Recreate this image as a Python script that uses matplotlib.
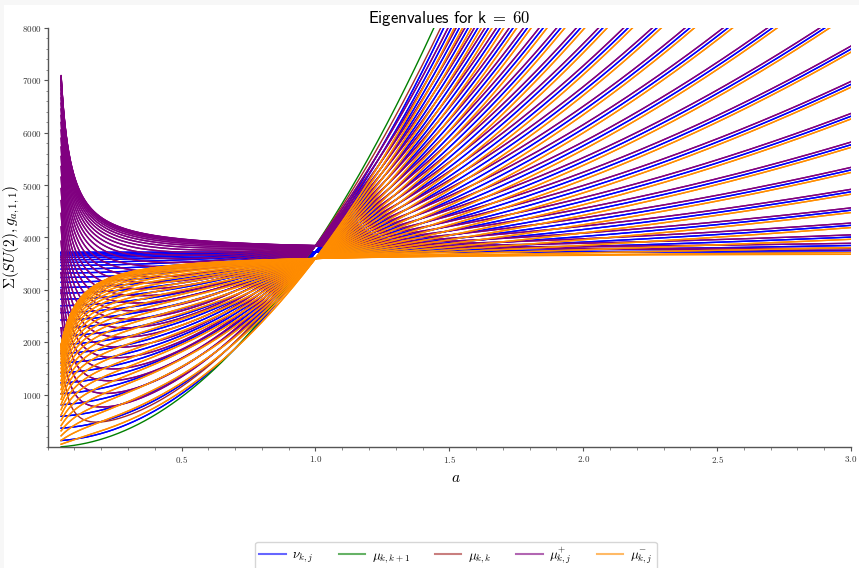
import numpy as np
import matplotlib
matplotlib.use("Agg")
import matplotlib.pyplot as plt
from matplotlib.lines import Line2D
from matplotlib.patches import Rectangle
from matplotlib.ticker import FixedLocator, MultipleLocator, FuncFormatter

plt.rcParams['mathtext.fontset'] = 'cm'

# ---- data ----
k = 60                      # representation index
a_range = [0.05, 3.0]       # metric parameter range plotted
j_nu = list(range(0, k + 1))   # indices for nu_{k,j}
j_mu = list(range(1, k))       # indices for mu^{+-}_{k,j}
x_ticks = [0.5, 1.0, 1.5, 2.0, 2.5, 3.0]
y_ticks = [1000, 2000, 3000, 4000, 5000, 6000, 7000, 8000]
title = r"$\mathsf{Eigenvalues\ for\ k\;=\;60}$"
legend_labels = [r"$\nu_{k,j}$", r"$\mu_{k,k+1}$", r"$\mu_{k,k}$",
                 r"$\mu_{k,j}^{+}$", r"$\mu_{k,j}^{-}$"]
colors = ["#0000ff", "#008000", "#a52a2a", "#800080", "#ff8c00"]

a = np.linspace(a_range[0], a_range[1], 3000)


def nu(j):
    return k * (k + 2) + (a ** 2 - 1) * (k - 2 * j) ** 2


def mu_plus(j):
    return (np.sqrt(nu(j) + 1 / a ** 2) + 1 / a) ** 2


def mu_minus(j):
    return (np.sqrt(nu(j) + 1 / a ** 2) - 1 / a) ** 2


mu_kk1 = a ** 2 * (k + 2) ** 2
mu_kk = (a * k + 2 / a) ** 2

# ---- figure ----
W, H = 859, 568
fig = plt.figure(figsize=(W / 100, H / 100), dpi=100)
fig.patch.set_facecolor("#f7f7f7")
fig.patches.append(Rectangle((4 / W, 0), 1, 1 - 5 / H, transform=fig.transFigure,
                             facecolor="white", edgecolor="none", zorder=-10))

ax = fig.add_axes([47.7 / W, 1 - 447.3 / H, (851 - 47.7) / W, (447.3 - 27.7) / H])
ax.set_facecolor("none")

lw = 1.0
for j in j_nu:
    ax.plot(a, nu(j), color=colors[0], lw=lw)
ax.plot(a, mu_kk1, color=colors[1], lw=lw)
ax.plot(a, mu_kk, color=colors[2], lw=lw)
for j in j_mu:
    ax.plot(a, mu_plus(j), color=colors[3], lw=lw)
for j in j_mu:
    ax.plot(a, mu_minus(j), color=colors[4], lw=lw)

ax.set_xlim(0, 3.0)
ax.set_ylim(0, 8000)

for s in ["top", "right"]:
    ax.spines[s].set_visible(False)
for s in ["left", "bottom"]:
    ax.spines[s].set_color("#555555")
    ax.spines[s].set_linewidth(1.0)

ax.xaxis.set_major_locator(FixedLocator(x_ticks))
ax.xaxis.set_minor_locator(MultipleLocator(0.1))
ax.yaxis.set_major_locator(FixedLocator(y_ticks))
ax.yaxis.set_minor_locator(MultipleLocator(200))
ax.xaxis.set_major_formatter(FuncFormatter(lambda v, p: r"$%.1f$" % v))
ax.yaxis.set_major_formatter(FuncFormatter(lambda v, p: r"$%d$" % v))
ax.tick_params(which="major", length=3, width=0.8, color="#555555",
               labelsize=6.5, pad=1.5, labelcolor="#333333")
ax.tick_params(which="minor", length=1.8, width=0.6, color="#777777")

ax.set_xlabel(r"$a$", fontsize=11)
ax.xaxis.set_label_coords((456 - 47.7) / 803.3, (447.3 - 470) / 419.6)
ax.set_ylabel(r"$\Sigma(SU(2), g_{a,1,1})$", fontsize=11)
ax.yaxis.set_label_coords((22 - 47.7) / 803.3, 0.5)
ax.set_title(title, fontsize=12, pad=3)

handles = [Line2D([0], [0], color=c, lw=1.5, alpha=0.6) for c in colors]
fig.legend(handles, legend_labels, loc="center", ncol=5,
           bbox_to_anchor=(456 / W, 1 - 556 / H), fontsize=9.5,
           handlelength=2.0, handletextpad=0.5, columnspacing=1.9,
           frameon=True, edgecolor="#cccccc", fancybox=True,
           borderpad=0.3)

fig.savefig("out.png", dpi=100)
